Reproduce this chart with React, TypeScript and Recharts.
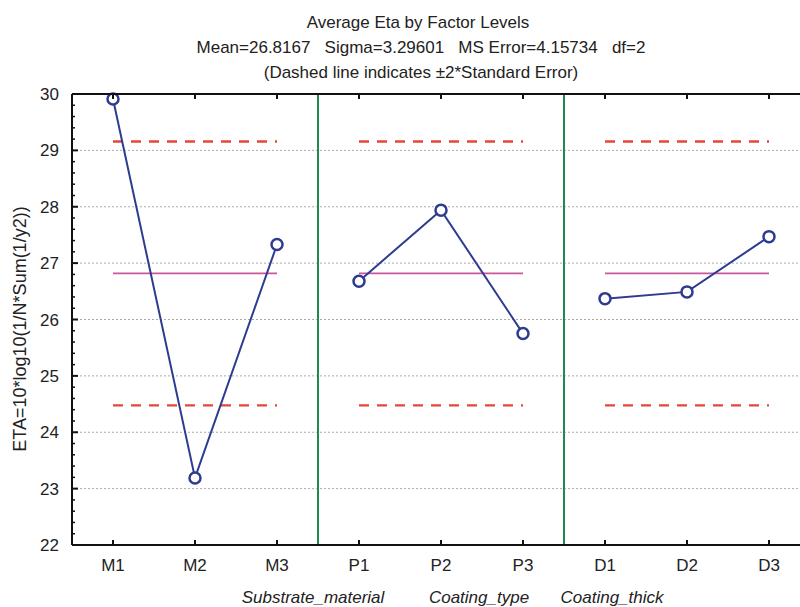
import React from "react";
import {
  ComposedChart, Line, XAxis, YAxis, CartesianGrid, ReferenceLine,
} from "recharts";

// factor levels, three groups of three
const groups = ["Substrate_material", "Coating_type", "Coating_thick"];
const levels = [
  ["M1", "M2", "M3"],
  ["P1", "P2", "P3"],
  ["D1", "D2", "D3"],
];
const eta = [
  [29.91, 23.19, 27.33],
  [26.68, 27.94, 25.75],
  [26.37, 26.49, 27.47],
];
const mean = 26.8167;
const upperLimit = 29.157;
const lowerLimit = 24.477;
const yTicks = [22, 23, 24, 25, 26, 27, 28, 29, 30];

const W = 812;
const H = 607;
const PLOT_LEFT = 72;
const PLOT_TOP = 94;
const FONT = "'Liberation Sans', Arial, sans-serif";
const FS = 17;
const NAVY = "#2d3c8e";

// one row per level; each group gets its own keys so the lines break between groups
const data = levels.flatMap((lv, g) =>
  lv.map((name, i) => ({
    name,
    [`eta${g}`]: eta[g][i],
    [`mean${g}`]: mean,
    [`hi${g}`]: upperLimit,
    [`lo${g}`]: lowerLimit,
  }))
);

const minorTicks: number[] = [];
for (let v = 22; v <= 30.001; v += 0.2) minorTicks.push(Math.round(v * 10) / 10);

const BottomTick = (props: any) => {
  const { x, y, payload } = props;
  return (
    <g>
      <line x1={x} x2={x} y1={y} y2={y - 5} stroke="#111" strokeWidth={2} />
      <text x={x} y={y + 26} textAnchor="middle" fontSize={FS} fill="#222" fontFamily={FONT}>
        {payload.value}
      </text>
    </g>
  );
};

const LeftTick = (props: any) => {
  const { x, y, payload } = props;
  const v = payload.value;
  const major = Math.abs(v - Math.round(v)) < 0.01;
  return (
    <g>
      <line x1={x} x2={x + (major ? 6 : 3)} y1={y} y2={y} stroke="#111" strokeWidth={major ? 2 : 1.5} />
      {major && (
        <text x={x - 13} y={y + 6} textAnchor="end" fontSize={FS} fill="#222" fontFamily={FONT}>
          {v}
        </text>
      )}
    </g>
  );
};

const Marker = (props: any) => {
  const { cx, cy, value } = props;
  if (value == null) return null;
  return <circle cx={cx} cy={cy} r={5.5} fill="#fff" stroke={NAVY} strokeWidth={2.5} />;
};

// top frame of the plot with inward ticks at each level
function TopFrame() {
  const n = levels.flat().length;
  const band = (W - 2 - PLOT_LEFT) / n;
  return (
    <svg width={W} height={H} style={{ position: "absolute", left: 0, top: 0, pointerEvents: "none" }}>
      <line x1={PLOT_LEFT} x2={W} y1={PLOT_TOP} y2={PLOT_TOP} stroke="#111" strokeWidth={2} />
      {levels.flat().map((l, i) => (
        <line key={l} x1={PLOT_LEFT + band * (i + 0.5)} x2={PLOT_LEFT + band * (i + 0.5)} y1={PLOT_TOP} y2={PLOT_TOP + 5} stroke="#111" strokeWidth={2} />
      ))}
    </svg>
  );
}

export default function App() {
  return (
    <div style={{ position: "fixed", left: 0, top: 0, width: 800, height: H, overflow: "hidden", background: "#fff" }}>
      <div style={{ position: "absolute", left: 0, top: 0, width: W, height: H }}>
        <ComposedChart width={W} height={H} data={data} margin={{ top: PLOT_TOP, right: 2, bottom: 61, left: 0 }}>
          <CartesianGrid horizontal vertical={false} stroke="#aaa" strokeDasharray="2 2" horizontalValues={yTicks.slice(1, -1)} />
          <XAxis dataKey="name" scale="band" height={1} stroke="#111" strokeWidth={2} tickSize={0} tickMargin={0} tickLine={false} tick={<BottomTick />} interval={0} />
          <YAxis type="number" domain={[22, 30]} ticks={minorTicks} interval={0} width={PLOT_LEFT} stroke="#111" strokeWidth={2} tickSize={0} tickMargin={0} tickLine={false} tick={<LeftTick />} allowDecimals />
          <ReferenceLine x="M3" position="end" stroke="#1e8a4c" strokeWidth={2} />
          <ReferenceLine x="P3" position="end" stroke="#1e8a4c" strokeWidth={2} />
          {groups.map((_, g) => (
            <React.Fragment key={g}>
              <Line dataKey={`hi${g}`} stroke="#e8443a" strokeWidth={2.4} strokeDasharray="10 8" dot={false} isAnimationActive={false} />
              <Line dataKey={`lo${g}`} stroke="#e8443a" strokeWidth={2.4} strokeDasharray="10 8" dot={false} isAnimationActive={false} />
              <Line dataKey={`mean${g}`} stroke="#c8589c" strokeWidth={1.8} dot={false} isAnimationActive={false} />
              <Line dataKey={`eta${g}`} stroke={NAVY} strokeWidth={2} dot={<Marker />} isAnimationActive={false} />
            </React.Fragment>
          ))}
          <text x={418} y={28} textAnchor="middle" fontSize={FS} fill="#222" fontFamily={FONT}>
            Average Eta by Factor Levels
          </text>
          <text x={421} y={53} textAnchor="middle" fontSize={FS} fill="#222" fontFamily={FONT} style={{ whiteSpace: "pre" }}>
            {"Mean=26.8167   Sigma=3.29601   MS Error=4.15734   df=2"}
          </text>
          <text x={421} y={78} textAnchor="middle" fontSize={FS} fill="#222" fontFamily={FONT}>
            (Dashed line indicates ±2*Standard Error)
          </text>
          <text x={26} y={329} textAnchor="middle" fontSize={18} fill="#222" fontFamily={FONT} transform="rotate(-90 26 329)">
            ETA=10*log10(1/N*Sum(1/y2))
          </text>
          <text x={313} y={603} textAnchor="middle" fontSize={FS} fontStyle="italic" fill="#222" fontFamily={FONT}>{groups[0]}</text>
          <text x={479} y={603} textAnchor="middle" fontSize={FS} fontStyle="italic" fill="#222" fontFamily={FONT}>{groups[1]}</text>
          <text x={612} y={603} textAnchor="middle" fontSize={FS} fontStyle="italic" fill="#222" fontFamily={FONT}>{groups[2]}</text>
        </ComposedChart>
        <TopFrame />
      </div>
    </div>
  );
}
